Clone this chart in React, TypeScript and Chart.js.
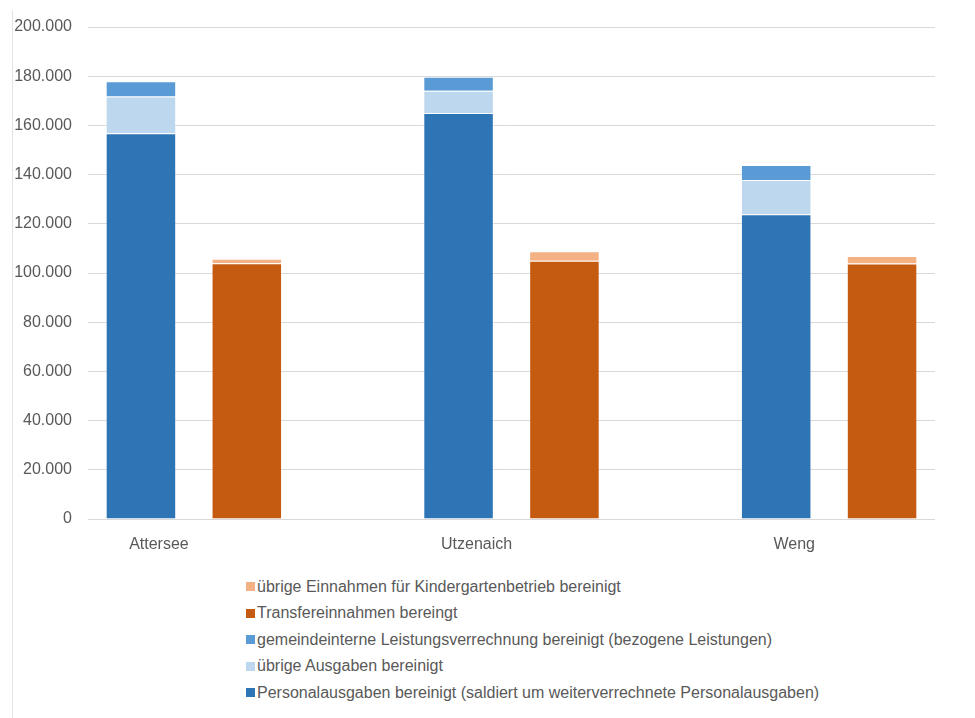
import React, { useEffect, useRef } from "react";
import { Chart, registerables } from "chart.js";

Chart.register(...registerables);

// Gemeinden
const categories = ["Attersee", "Utzenaich", "Weng"];

// Ausgaben (EUR)
const personalausgaben = [156800, 165000, 123900];
const uebrigeAusgaben = [14900, 9100, 13900];
const gemeindeinterneLeistungen = [6200, 5700, 6100];

// Einnahmen (EUR)
const transfereinnahmen = [104000, 105000, 103900];
const uebrigeEinnahmen = [1800, 3800, 3000];

// y-axis
const yMin = 0;
const yMax = 200000;
const yStep = 20000;

const FONT = "'Liberation Sans', Arial, sans-serif";
const TEXT = "#595959";

// Each Gemeinde gets three slots: expenses column, revenue column, gap.
function slots<T>(fn: (i: number, part: number) => T): T[] {
  const out: T[] = [];
  categories.forEach((_, i) => {
    out.push(fn(i, 0));
    out.push(fn(i, 1));
    if (i < categories.length - 1) out.push(fn(i, 2));
  });
  return out;
}

const labels = slots((i, part) => (part === 0 ? categories[i] : ""));
const expense = (arr: number[]) => slots((i, part) => (part === 0 ? arr[i] : null));
const revenue = (arr: number[]) => slots((i, part) => (part === 1 ? arr[i] : null));

const series = [
  { label: "Personalausgaben bereinigt (saldiert um weiterverrechnete Personalausgaben)", data: expense(personalausgaben), color: "#2E75B6" },
  { label: "übrige Ausgaben bereinigt", data: expense(uebrigeAusgaben), color: "#BDD7EE" },
  { label: "gemeindeinterne Leistungsverrechnung bereinigt (bezogene Leistungen)", data: expense(gemeindeinterneLeistungen), color: "#5B9BD5" },
  { label: "Transfereinnahmen bereingt", data: revenue(transfereinnahmen), color: "#C55A11" },
  { label: "übrige Einnahmen für Kindergartenbetrieb bereinigt", data: revenue(uebrigeEinnahmen), color: "#F4B183" },
];

const formatDe = (v: number) => String(Math.round(v)).replace(/\B(?=(\d{3})+(?!\d))/g, ".");

export default function App() {
  const canvasRef = useRef<HTMLCanvasElement | null>(null);

  useEffect(() => {
    if (!canvasRef.current) return;
    const chart = new Chart(canvasRef.current, {
      type: "bar",
      data: {
        labels,
        datasets: series.map((s) => ({
          label: s.label,
          data: s.data,
          backgroundColor: s.color,
          borderColor: "rgba(255,255,255,0.18)",
          borderWidth: 1,
          categoryPercentage: 1,
          barPercentage: 0.666,
        })),
      },
      options: {
        responsive: false,
        animation: false,
        layout: { padding: { left: 0, right: 40, top: 27, bottom: 0 } },
        plugins: {
          legend: { display: false },
          tooltip: { enabled: false },
        },
        scales: {
          x: {
            stacked: true,
            grid: { display: false },
            border: { display: false },
            ticks: {
              autoSkip: false,
              maxRotation: 0,
              color: TEXT,
              font: { family: FONT, size: 16 },
              labelOffset: 18,
              padding: 8,
            },
            afterFit: (scale: any) => {
              scale.height = 41;
            },
          },
          y: {
            stacked: true,
            min: yMin,
            max: yMax,
            grid: { color: "#D9D9D9", lineWidth: 1, drawTicks: false },
            border: { display: false },
            ticks: {
              stepSize: yStep,
              color: TEXT,
              font: { family: FONT, size: 16 },
              padding: 16,
              callback: (v: any) => formatDe(Number(v)),
            },
            afterFit: (scale: any) => {
              scale.width = 88;
            },
          },
        },
      },
    });
    return () => chart.destroy();
  }, []);

  const legendItems = [...series].reverse();

  return (
    <div style={{ position: "absolute", left: 0, top: 0, width: 975, height: 718, background: "#fff", overflow: "hidden" }}>
      <div style={{ position: "absolute", left: 12, top: 10, width: 1, height: 708, background: "#E3E3E3" }} />
      <canvas ref={canvasRef} width={975} height={560} style={{ position: "absolute", left: 0, top: 0 }} />
      <div style={{ position: "absolute", left: 246, top: 573.25, fontFamily: FONT, fontSize: 16, color: TEXT }}>
        {legendItems.map((s) => (
          <div key={s.label} style={{ height: 26.5, display: "flex", alignItems: "center", whiteSpace: "nowrap" }}>
            <span style={{ display: "inline-block", width: 9, height: 9, background: s.color, marginRight: 2 }} />
            <span>{s.label}</span>
          </div>
        ))}
      </div>
    </div>
  );
}
